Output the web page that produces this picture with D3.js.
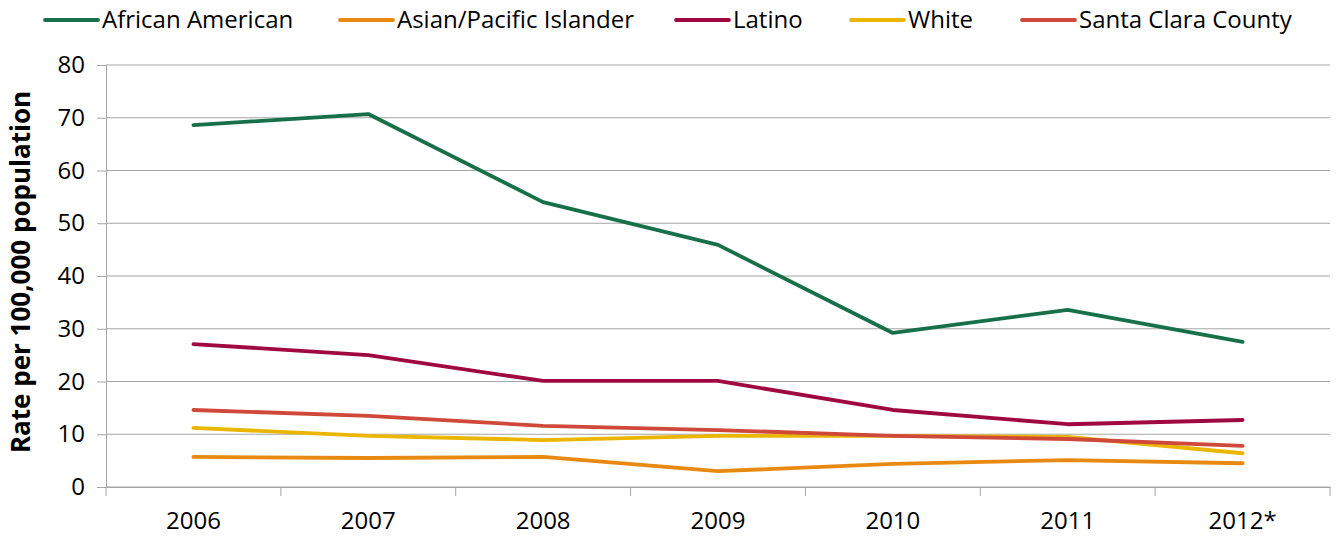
<!DOCTYPE html>
<html>
<head>
<meta charset="utf-8">
<script src="https://cdn.jsdelivr.net/npm/d3@7"></script>
<style>
  body { margin: 0; background: #fff; }
  text { font-family: "Open Sans", sans-serif; fill: #000; }
</style>
</head>
<body>
<div id="vis-container"></div>
<script>
// data
var years = ["2006", "2007", "2008", "2009", "2010", "2011", "2012*"];
var africanAmerican = [68.6, 70.7, 54.0, 45.9, 29.2, 33.6, 27.5];
var asianPI = [5.7, 5.5, 5.7, 3.0, 4.4, 5.1, 4.5];
var latino = [27.1, 25.0, 20.1, 20.1, 14.6, 11.9, 12.7];
var white = [11.2, 9.7, 8.9, 9.7, 9.7, 9.5, 6.4];
var santaClara = [14.6, 13.5, 11.6, 10.8, 9.7, 9.1, 7.8];
var yTicks = [0, 10, 20, 30, 40, 50, 60, 70, 80];

var series = [
  { name: "African American", values: africanAmerican, color: "#17704a" },
  { name: "Asian/Pacific Islander", values: asianPI, color: "#e88a12" },
  { name: "Latino", values: latino, color: "#a0093f" },
  { name: "White", values: white, color: "#ebb600" },
  { name: "Santa Clara County", values: santaClara, color: "#d0483a" }
];
// legend x positions (line start)
var legendX = [45, 340, 676, 851, 1022];

var width = 1336, height = 538;
var margin = { top: 65, right: 6, bottom: 51, left: 106 };

var svg = d3.select("#vis-container").append("svg")
  .attr("width", width)
  .attr("height", height);

var x = d3.scaleBand()
  .domain(years)
  .range([margin.left, width - margin.right]);

var y = d3.scaleLinear()
  .domain([0, 80])
  .range([height - margin.bottom, margin.top]);

// gridlines
svg.append("g")
  .selectAll("line")
  .data(yTicks)
  .enter()
  .append("line")
  .attr("x1", margin.left)
  .attr("x2", width - margin.right)
  .attr("y1", function (d) { return y(d); })
  .attr("y2", function (d) { return y(d); })
  .attr("stroke", "#a6a6a6")
  .attr("stroke-width", 1);

// y axis
var yAxis = svg.append("g")
  .attr("transform", "translate(" + margin.left + ",0)")
  .call(d3.axisLeft(y).tickValues(yTicks).tickSize(9).tickPadding(12));
yAxis.select(".domain").attr("stroke", "#a6a6a6");
yAxis.selectAll(".tick line").attr("stroke", "#a6a6a6");
yAxis.selectAll("text").style("font-size", "24px").attr("fill", "#000");

// x axis with ticks at band edges
var xAxis = svg.append("g")
  .attr("transform", "translate(0," + y(0) + ")")
  .call(d3.axisBottom(x).tickSize(0).tickPadding(25));
xAxis.select(".domain").attr("stroke", "#a6a6a6");
xAxis.selectAll("text").style("font-size", "24px").attr("fill", "#000");

var edges = years.map(function (d) { return x(d); }).concat([x.range()[1]]);
svg.append("g")
  .selectAll("line")
  .data(edges)
  .enter()
  .append("line")
  .attr("x1", function (d) { return d; })
  .attr("x2", function (d) { return d; })
  .attr("y1", y(0))
  .attr("y2", y(0) + 9)
  .attr("stroke", "#a6a6a6");

// y axis title
svg.append("text")
  .attr("transform", "translate(30," + (y(40) - 4) + ") rotate(-90)")
  .attr("text-anchor", "middle")
  .style("font-size", "26px")
  .style("font-weight", "bold")
  .text("Rate per 100,000 population");

// lines
var line = d3.line()
  .x(function (d, i) { return x(years[i]) + x.bandwidth() / 2; })
  .y(function (d) { return y(d); });

svg.append("g")
  .selectAll("path")
  .data(series)
  .enter()
  .append("path")
  .attr("d", function (s) { return line(s.values); })
  .attr("fill", "none")
  .attr("stroke", function (s) { return s.color; })
  .attr("stroke-width", 3.8)
  .attr("stroke-linejoin", "round")
  .attr("stroke-linecap", "round");

// legend
var legend = svg.append("g")
  .selectAll("g")
  .data(series)
  .enter()
  .append("g")
  .attr("transform", function (s, i) { return "translate(" + legendX[i] + ",20)"; });

legend.append("line")
  .attr("x1", 0)
  .attr("x2", 53)
  .attr("stroke", function (s) { return s.color; })
  .attr("stroke-width", 3.8)
  .attr("stroke-linecap", "round");

legend.append("text")
  .attr("x", 57)
  .attr("dy", "0.35em")
  .style("font-size", "24px")
  .text(function (s) { return s.name; });
</script>
</body>
</html>
